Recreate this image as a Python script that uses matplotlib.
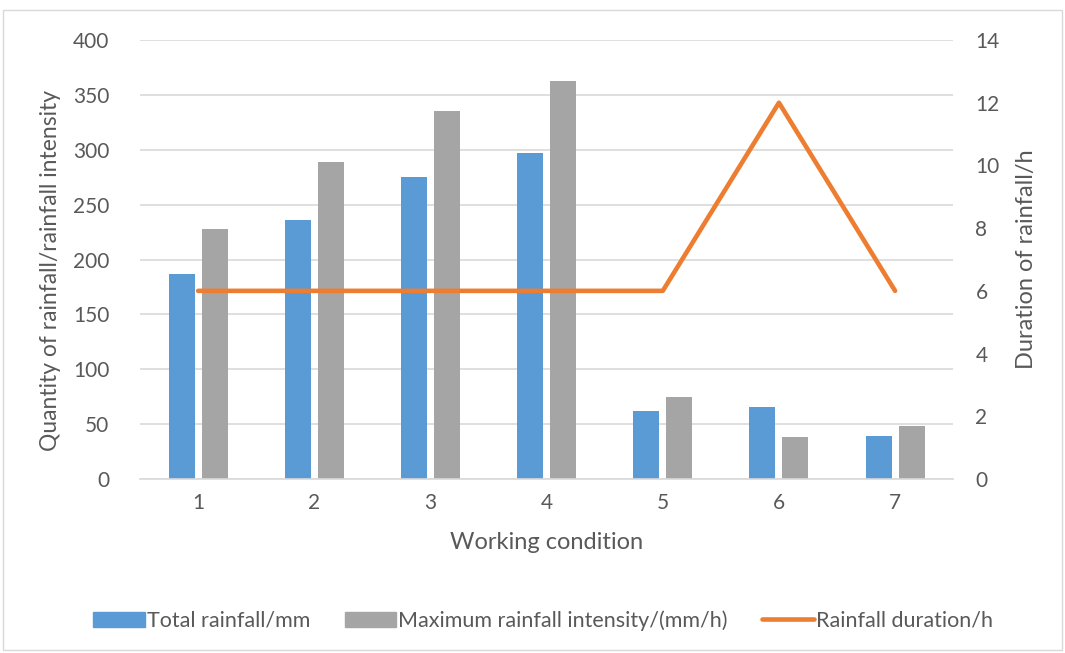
import matplotlib.pyplot as plt
from matplotlib.patches import Rectangle
from matplotlib.lines import Line2D
import numpy as np

plt.rcParams['font.family'] = ['Lato', 'DejaVu Sans']

conditions = ['1', '2', '3', '4', '5', '6', '7']
total_rainfall = [187, 236, 275, 297, 62, 66, 39]
max_intensity = [228, 289, 335, 363, 75, 38, 48]
duration = [6, 6, 6, 6, 6, 12, 6]

blue = '#5B9BD5'
gray = '#A5A5A5'
orange = '#ED7D31'
txt = '#595959'
grid = '#D9D9D9'

fig = plt.figure(figsize=(10.65, 6.53), dpi=100)
fig.patches.append(Rectangle((0.003, 0.004), 0.994, 0.981, transform=fig.transFigure,
                             fill=False, edgecolor=grid, linewidth=1))
ax = fig.add_axes([0.1315, 0.2665, 0.7635, 0.6722])
x = np.arange(len(conditions))
w = 0.224
ax.bar(x - 0.142, total_rainfall, w, color=blue, zorder=2)
ax.bar(x + 0.142, max_intensity, w, color=gray, zorder=2)
ax.set_xlim(-0.5, len(conditions) - 0.5)
ax.set_ylim(0, 400)
ax.set_yticks(range(0, 401, 50))
ax.yaxis.grid(True, color=grid, linewidth=1.2, zorder=0)
ax.set_axisbelow(True)
ax.set_xticks(x)
ax.set_xticklabels(conditions)
for s in ['top', 'right', 'left']:
    ax.spines[s].set_visible(False)
ax.spines['bottom'].set_color(grid)
ax.spines['bottom'].set_linewidth(1.2)
ax.tick_params(axis='both', length=0, labelsize=15, colors=txt, pad=10)
ax.tick_params(axis='y', pad=22)
ax.set_xlabel('Working condition', fontsize=17, color=txt, labelpad=14)
ax.set_ylabel('Quantity of rainfall/rainfall intensity', fontsize=16.5, color=txt)
ax.yaxis.set_label_coords(-0.097, 0.475)

ax2 = ax.twinx()
ax2.plot(x, duration, color=orange, linewidth=3.3, solid_capstyle='round', zorder=3)
ax2.set_ylim(0, 14)
ax2.set_yticks(range(0, 15, 2))
for s in ax2.spines.values():
    s.set_visible(False)
ax2.tick_params(axis='y', length=0, labelsize=15, colors=txt, pad=16)
ax2.set_ylabel('Duration of rainfall/h', fontsize=17, color=txt, labelpad=12)

handles = [Rectangle((0, 0), 1, 1, color=blue), Rectangle((0, 0), 1, 1, color=gray),
           Line2D([0], [0], color=orange, linewidth=3.3, solid_capstyle='round')]
labels = ['Total rainfall/mm', 'Maximum rainfall intensity/(mm/h)', 'Rainfall duration/h']
fig.legend(handles, labels, loc='center', bbox_to_anchor=(0.51, 0.05), ncol=3, frameon=False,
           fontsize=15.5, labelcolor=txt, handlelength=2.4, handletextpad=0.1, columnspacing=1.6)

fig.savefig('out.png', dpi=100)
